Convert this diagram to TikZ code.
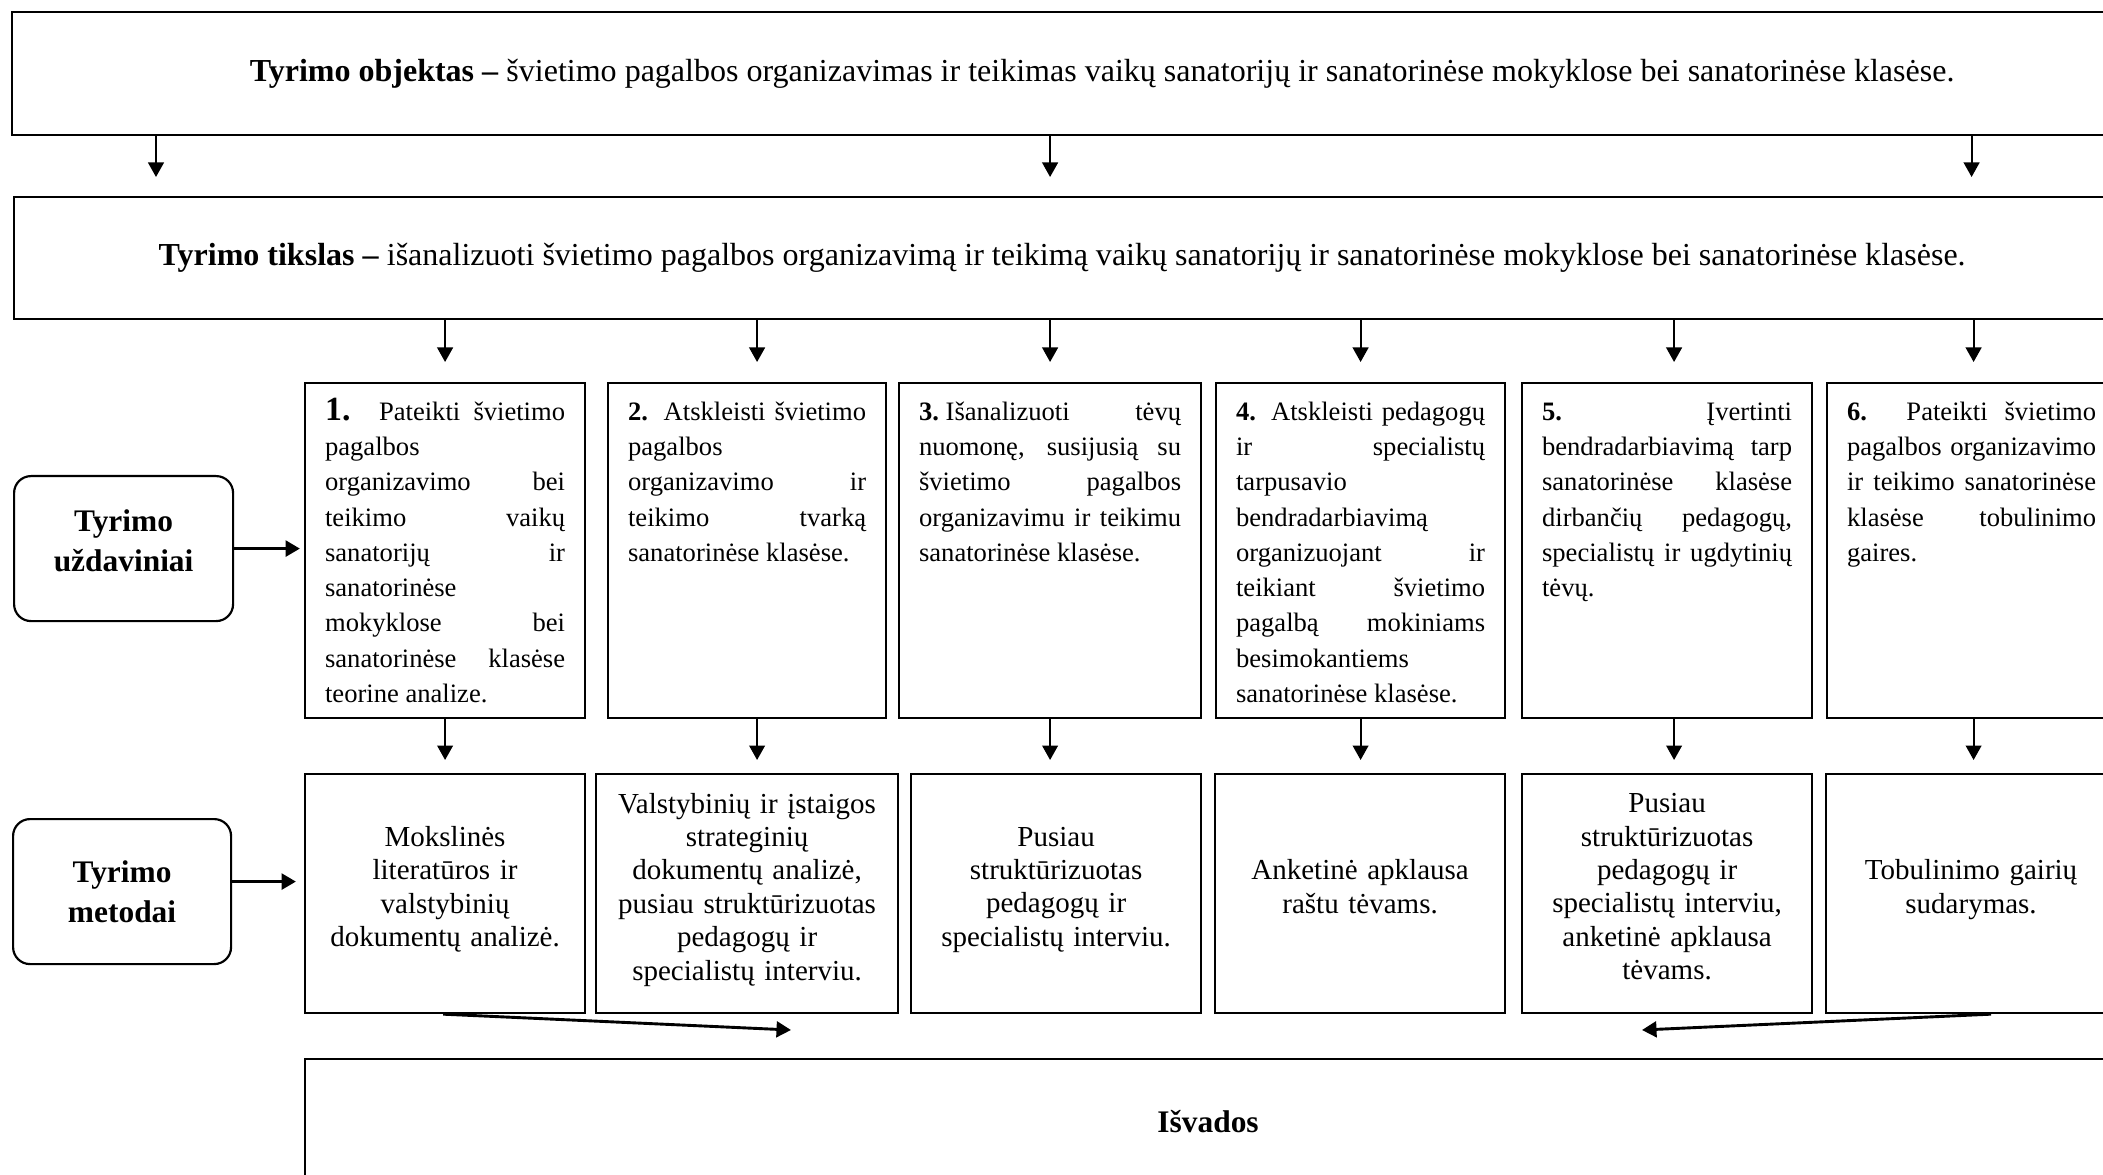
\documentclass[tikz,border=0pt]{standalone}
\usepackage{fontspec}
\setmainfont{Liberation Serif}
\usetikzlibrary{arrows.meta}
\newlength\px \setlength\px{0.4138pt} % vienas paveikslo taškas
\newcommand{\uzdtekstas}[2]{\parbox[c][309\px][t]{#1\px}{\tolerance=10000\hbadness=10000\hyphenpenalty=10000\rule{0pt}{10pt}#2}}
\newcommand{\pakelk}[1]{\rule[-#1\px]{0pt}{0pt}} % teksto pakėlimas
\tikzset{
    blokas/.style = {draw, line width=0.9pt, inner sep=0pt, anchor=north west},
    virsus/.style = {blokas, font=\fontsize{13.25}{15}\selectfont},
    uzdavinys/.style = {blokas, inner xsep=20\px, inner ysep=13\px, font=\fontsize{11}{14.6}\selectfont},
    metodas/.style = {blokas, align=center, font=\fontsize{12}{13.8}\selectfont},
    antraste/.style = {draw, line width=0.9pt, rounded corners=7pt, inner sep=0pt, anchor=north west,
        align=center, font=\fontsize{13}{16.5}\selectfont\bfseries},
    rod/.style = {-{Triangle[length=6pt,width=6.5pt]}, line width=0.8pt},
    storrod/.style = {-{Triangle[length=6pt,width=6.5pt]}, line width=1.5pt},
}
\begin{document}
\begin{tikzpicture}[x=1\px, y=-1\px]
    \useasboundingbox (0,0) rectangle (2103,1175);
    % objektas ir tikslas
    \node [virsus, minimum width=2180\px, minimum height=123\px] (obj) at (11,11)
        {\textbf{Tyrimo objektas –} švietimo pagalbos organizavimas ir teikimas vaikų sanatorijų ir sanatorinėse mokyklose bei sanatorinėse klasėse.};
    \node [virsus, minimum width=2096\px, minimum height=122\px] (goal) at (13,196)
        {\textbf{Tyrimo tikslas –} išanalizuoti švietimo pagalbos organizavimą ir teikimą vaikų sanatorijų ir sanatorinėse mokyklose bei sanatorinėse klasėse.};
    % uždaviniai
    \node [antraste, minimum width=219\px, minimum height=145\px] (uzd) at (13,475) {Tyrimo\\uždaviniai\pakelk{16}};
    \node [uzdavinys] (tsk1) at (304,382) {\uzdtekstas{240}{{\fontsize{14}{14.6}\selectfont\bfseries 1.} Pateikti švietimo\linebreak pagalbos\linebreak organizavimo bei\linebreak teikimo vaikų\linebreak sanatorijų ir\linebreak sanatorinėse\linebreak mokyklose bei\linebreak sanatorinėse klasėse\linebreak teorine analize.}};
    \node [uzdavinys] (tsk2) at (607,382) {\uzdtekstas{238}{\textbf{2.} Atskleisti švietimo\linebreak pagalbos\linebreak organizavimo ir\linebreak teikimo tvarką\linebreak sanatorinėse klasėse.}};
    \node [uzdavinys] (tsk3) at (898,382) {\uzdtekstas{262}{\textbf{3.}\hspace{0.25em}Išanalizuoti tėvų\linebreak nuomonę, susijusią su\linebreak švietimo pagalbos\linebreak organizavimu ir teikimu\linebreak sanatorinėse klasėse.}};
    \node [uzdavinys] (tsk4) at (1215,382) {\uzdtekstas{249}{\textbf{4.} Atskleisti pedagogų\linebreak ir specialistų\linebreak tarpusavio\linebreak bendradarbiavimą\linebreak organizuojant ir\linebreak teikiant švietimo\linebreak pagalbą mokiniams\linebreak besimokantiems\linebreak sanatorinėse klasėse.}};
    \node [uzdavinys] (tsk5) at (1521,382) {\uzdtekstas{250}{\textbf{5.} Įvertinti\linebreak bendradarbiavimą tarp\linebreak sanatorinėse klasėse\linebreak dirbančių pedagogų,\linebreak specialistų ir ugdytinių\linebreak tėvų.}};
    \node [uzdavinys] (tsk6) at (1826,382) {\uzdtekstas{249}{\textbf{6.} Pateikti švietimo\linebreak pagalbos organizavimo\linebreak ir teikimo sanatorinėse\linebreak klasėse tobulinimo\linebreak gaires.}};
    % metodai
    \node [antraste, minimum width=218\px, minimum height=145\px] (met) at (12,818) {Tyrimo\\metodai};
    \node [metodas, minimum width=280\px, minimum height=239\px, text width=260\px] (meth1) at (304,773)
        {Mokslinės\\literatūros ir\\valstybinių\\dokumentų analizė.\pakelk{14}};
    \node [metodas, minimum width=302\px, minimum height=239\px, text width=282\px] (meth2) at (595,773)
        {Valstybinių ir įstaigos\\strateginių\\dokumentų analizė,\\pusiau struktūrizuotas\\pedagogų ir\\specialistų interviu.\pakelk{14}};
    \node [metodas, minimum width=290\px, minimum height=239\px, text width=270\px] (meth3) at (910,773)
        {Pusiau\\struktūrizuotas\\pedagogų ir\\specialistų interviu.\pakelk{14}};
    \node [metodas, minimum width=290\px, minimum height=239\px, text width=270\px] (meth4) at (1214,773)
        {Anketinė apklausa\\raštu tėvams.\pakelk{14}};
    \node [metodas, minimum width=290\px, minimum height=239\px, text width=270\px] (meth5) at (1521,773)
        {Pusiau\\struktūrizuotas\\pedagogų ir\\specialistų interviu,\\anketinė apklausa\\tėvams.\pakelk{14}};
    \node [metodas, minimum width=290\px, minimum height=239\px, text width=270\px] (meth6) at (1825,773)
        {Tobulinimo gairių\\sudarymas.\pakelk{14}};
    % išvados
    \node [blokas, minimum width=1806\px, minimum height=124\px, font=\fontsize{13}{16}\selectfont\bfseries] (isv) at (304,1058) {Išvados};
    % rodyklės
    \coordinate (k1) at (156,0);
    \foreach \t in {k1, tsk3, tsk6}
        \draw [rod, shorten >=19\px] (obj.south -| \t) -- (goal.north -| \t);
    \foreach \i/\dx in {1/0, 2/10, 3/0, 4/0, 5/7, 6/2} {
        \draw [rod, shorten >=20\px] ([xshift=\dx\px]goal.south -| tsk\i.north) -- ([xshift=\dx\px]tsk\i.north);
        \draw [rod, shorten >=13\px] ([xshift=\dx\px]tsk\i.south) -- ([xshift=\dx\px]tsk\i.south |- meth\i.north);
    }
    \draw [storrod, shorten >=4\px] (uzd.east) -- (uzd.east -| tsk1.west);
    \draw [storrod, shorten >=8\px] ([yshift=10\px]met.east) -- ([yshift=10\px]met.east -| meth1.west);
    \coordinate (i1) at (791,1030);
    \coordinate (i2) at (1642,1030);
    \draw [storrod, line width=1.2pt] ([xshift=-2\px]meth1.south) -- (i1);
    \draw [storrod, line width=1.2pt] ([xshift=20\px]meth6.south) -- (i2);
\end{tikzpicture}
\end{document}
